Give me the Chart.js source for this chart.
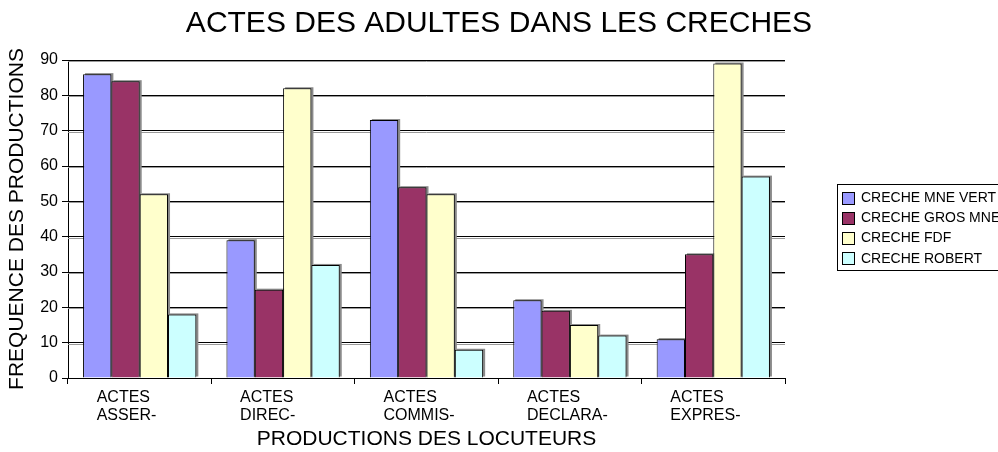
<!DOCTYPE html>
<html>
<head>
<meta charset="utf-8">
<script src="https://cdn.jsdelivr.net/npm/chart.js@4.4.1/dist/chart.umd.min.js"></script>
<style>
html,body{margin:0;padding:0;background:#fff;}
#wrap{width:998px;height:452px;position:relative;overflow:hidden;}
canvas{display:block;}
</style>
</head>
<body>
<div id="wrap"><canvas id="c" width="998" height="452"></canvas></div>
<script>
// ---- data ----
const categories = [["ACTES","ASSER-"],["ACTES","DIREC-"],["ACTES","COMMIS-"],["ACTES","DECLARA-"],["ACTES","EXPRES-"]];
const seriesNames = ["CRECHE MNE VERT","CRECHE GROS MNE","CRECHE FDF","CRECHE ROBERT"];
const mneVert = [86, 39, 73, 22, 11];
const grosMne = [84, 25, 54, 19, 35];
const fdf     = [52, 82, 52, 15, 89];
const robert  = [18, 32,  8, 12, 57];
const yTicks  = [0, 10, 20, 30, 40, 50, 60, 70, 80, 90];
const chartTitle = "ACTES DES ADULTES DANS LES CRECHES";
const xTitle = "PRODUCTIONS DES LOCUTEURS";
const yTitle = "FREQUENCE DES PRODUCTIONS";

const colors = ['#9999FF', '#993366', '#FFFFCC', '#CCFFFF'];
const FONT = "'Liberation Sans', Arial, Helvetica, sans-serif";

Chart.defaults.font.family = FONT;
Chart.defaults.color = '#000';

// grey shadows under gridlines and behind bars
const shadowPlugin = {
  id: 'shadows',
  beforeDatasetsDraw(chart) {
    const ctx = chart.ctx, ca = chart.chartArea, y = chart.scales.y;
    ctx.save();
    ctx.strokeStyle = '#9a9a9a';
    ctx.lineWidth = 1;
    y.ticks.forEach(t => {
      if (t.value === 0) return;
      const py = Math.round(y.getPixelForValue(t.value)) + 1.5;
      ctx.beginPath(); ctx.moveTo(ca.left, py); ctx.lineTo(ca.right, py); ctx.stroke();
    });
    ctx.fillStyle = '#8a8a8a';
    chart.data.datasets.forEach((ds, i) => {
      const meta = chart.getDatasetMeta(i);
      meta.data.forEach(el => {
        const p = el.getProps(['x', 'y', 'base', 'width'], true);
        ctx.fillRect(p.x - p.width / 2 + 2, p.y - 1, p.width, p.base - p.y);
      });
    });
    ctx.restore();
  }
};

// boxed legend on the right
const legendPlugin = {
  id: 'boxLegend',
  afterDraw(chart) {
    const ctx = chart.ctx;
    ctx.save();
    ctx.strokeStyle = '#000';
    ctx.lineWidth = 1;
    ctx.strokeRect(837.5, 184.5, 200, 86);
    ctx.font = '14px ' + FONT;
    ctx.textBaseline = 'middle';
    ctx.textAlign = 'left';
    chart.data.datasets.forEach((ds, i) => {
      const cy = 197.5 + i * 20.3;
      const sy = Math.round(cy - 6) + 0.5;
      ctx.fillStyle = ds.backgroundColor;
      ctx.fillRect(842.5, sy, 12, 12);
      ctx.strokeRect(842.5, sy, 12, 12);
      ctx.fillStyle = '#000';
      ctx.fillText(ds.label, 861, cy + 0.5);
    });
    ctx.restore();
  }
};

const seriesValues = [mneVert, grosMne, fdf, robert];

new Chart(document.getElementById('c'), {
  type: 'bar',
  data: {
    labels: categories,
    datasets: seriesNames.map((name, i) => ({
      label: name,
      data: seriesValues[i],
      backgroundColor: colors[i],
      borderColor: '#000',
      borderWidth: 1,
      borderSkipped: 'bottom',
      categoryPercentage: 0.79,
      barPercentage: 1.0
    }))
  },
  options: {
    responsive: false,
    animation: false,
    devicePixelRatio: 1,
    layout: { padding: { left: 0, right: 0, top: 0, bottom: 0 } },
    plugins: {
      legend: { display: false },
      tooltip: { enabled: false },
      title: {
        display: true,
        text: chartTitle,
        color: '#000',
        font: { size: 30, weight: 'normal', family: FONT, lineHeight: 1.2 },
        padding: { top: 5.5, bottom: 18.5 }
      }
    },
    scales: {
      x: {
        type: 'category',
        offset: true,
        grid: { display: true, drawOnChartArea: false, drawTicks: true, tickLength: 6, color: '#000', offset: true },
        border: { display: true, color: '#000', width: 1 },
        ticks: {
          color: '#000',
          font: { size: 16, family: FONT, lineHeight: 1.15 },
          align: 'start',
          labelOffset: -43,
          padding: 4,
          maxRotation: 0,
          minRotation: 0,
          autoSkip: false
        },
        title: {
          display: true,
          text: xTitle,
          color: '#000',
          font: { size: 21, family: FONT, lineHeight: 1.2 },
          padding: { top: 0, bottom: 0 }
        },
        afterFit(s) { s.height = 74; }
      },
      y: {
        min: 0,
        max: 90,
        grid: { color: '#000', lineWidth: 1, drawTicks: true, tickLength: 6 },
        border: { display: true, color: '#000', width: 1 },
        ticks: {
          color: '#000',
          font: { size: 16, family: FONT },
          padding: 4,
          stepSize: 10
        },
        afterBuildTicks(s) { s.ticks = yTicks.map(v => ({ value: v })); },
        title: {
          display: true,
          text: yTitle,
          color: '#000',
          font: { size: 21, family: FONT, lineHeight: 1.2 },
          padding: { top: 5, bottom: 0 }
        },
        afterFit(s) { s.width = 68; }
      },
      legendSpace: {
        type: 'linear',
        position: 'right',
        display: true,
        min: 0,
        max: 1,
        grid: { display: false, drawTicks: false },
        border: { display: false },
        ticks: { display: false },
        afterFit(s) { s.width = 213; }
      }
    }
  },
  plugins: [shadowPlugin, legendPlugin]
});
</script>
</body>
</html>
